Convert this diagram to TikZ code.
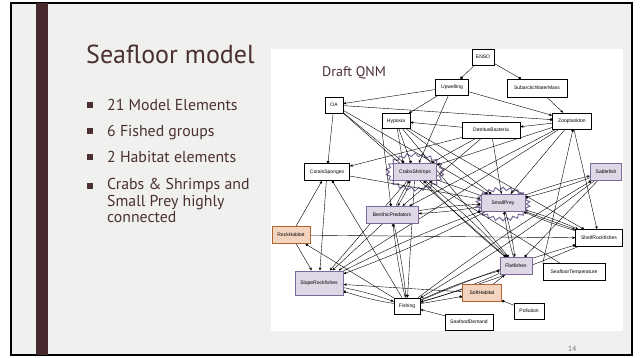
\documentclass[tikz,border=0pt]{standalone}
\usepackage{fontspec}
\setmainfont{Liberation Sans}
\newfontfamily\slidefont{PT Sans}
\usetikzlibrary{arrows.meta,positioning,shapes.symbols,shadows}
\definecolor{slideBgColor}{HTML}{F0F0EE}
\definecolor{barColor}{HTML}{45292D}
\definecolor{slideTextColor}{HTML}{4A3034}
\definecolor{fishedColor}{HTML}{DDD7E6}
\definecolor{fishedLineColor}{HTML}{7B6999}
\definecolor{habitatColor}{HTML}{F3D4BE}
\definecolor{habitatLineColor}{HTML}{B0632E}
\pgfdeclarelayer{slideLayer}
\pgfdeclarelayer{edgeLayer}
\pgfsetlayers{slideLayer,edgeLayer,main}

\begin{document}
\begin{tikzpicture}[x=1pt,y=-1pt,%
    >={Stealth[length=3.2pt,width=2.6pt]},align=center,every node/.style={font=\fontsize{5}{6}\selectfont}]
    \tikzstyle{state}=[text centered,rectangle,fill=white,draw=black,%
      line width=0.5pt,inner sep=1pt,minimum height=16pt]
    % All state styles
    \tikzstyle{fished}=[state,fill=fishedColor,draw=fishedLineColor,line width=1pt,%
      drop shadow={shadow xshift=0.8pt,shadow yshift=-0.8pt,fill=black!45}]
    \tikzstyle{habitat}=[state,fill=habitatColor,draw=habitatLineColor,line width=1pt,%
      drop shadow={shadow xshift=0.8pt,shadow yshift=-0.8pt,fill=black!45}]
    \tikzstyle{burst}=[starburst,starburst points=22,starburst point height=3.5pt,%
      random starburst=0,fill=white,draw=fishedLineColor,line width=1pt]
    \tikzstyle{slideText}=[anchor=base west,inner sep=0pt,text=slideTextColor,align=left]
    \tikzstyle{posEdge}=[->,line width=0.4pt]
    \tikzstyle{negEdge}=[-{Circle[length=2.8pt]},line width=0.4pt]
    % Slide
    \useasboundingbox (0,0) rectangle (640,358);
    \begin{pgfonlayer}{slideLayer}
    \fill[white] (0,0) rectangle (640,358);
    \fill[slideBgColor] (11,3) rectangle (632,355);
    \draw[black,line width=1.4pt] (11,3) rectangle (632,355);
    \fill[barColor] (36,3) rectangle (48,355);
    \fill[white] (271,49) rectangle (623,331);
    % Bursts round the highly connected groups
    \node (crabsBurst) [burst,minimum width=58pt,minimum height=38pt] at (415,172) {};
    \node (preyBurst) [burst,minimum width=54pt,minimum height=34pt] at (503,204) {};
    \end{pgfonlayer}
    \node (title) [slideText,font=\slidefont\fontsize{26}{30}\selectfont] at (86,64) {Seafloor model};
    \foreach \y in {105,131,157,186} \fill[slideTextColor] (87,\y-3) rectangle (93,\y+3);
    \node (itemA) [slideText,font=\slidefont\fontsize{15.8}{17}\selectfont] at (107,111) {21 Model Elements};
    \node (itemB) [slideText,font=\slidefont\fontsize{15.8}{17}\selectfont] at (107,137) {6 Fished groups};
    \node (itemC) [slideText,font=\slidefont\fontsize{15.8}{17}\selectfont] at (107,163) {2 Habitat elements};
    \node (itemD) [slideText,font=\slidefont\fontsize{15.8}{16.5}\selectfont] at (107,223) {Crabs \& Shrimps and\\Small Prey highly\\connected};
    \node (draftTitle) [slideText,font=\slidefont\fontsize{14}{16}\selectfont] at (322,77) {Draft QNM};
    \node (pageNum) [slideText,text=black!55,font=\slidefont\fontsize{7.5}{9}\selectfont] at (568,351) {14};
    % All states
    \node (ENSO) [state,minimum width=22pt] at (483,57) {ENSO};
    \node (upwelling) [state,minimum width=33pt] at (452,87) {Upwelling};
    \node (subarctic) [state,minimum width=60pt,minimum height=18pt] at (537,88) {SubarcticWaterMass};
    \node (OA) [state,minimum width=18pt] at (334,105) {OA};
    \node (hypoxia) [state,minimum width=28pt,minimum height=15pt] at (396,121) {Hypoxia};
    \node (zooplankton) [state,minimum width=39pt] at (572,121) {Zooplankton};
    \node (detritus) [state,minimum width=58pt] at (491,130) {DetritusBacteria};
    \node (corals) [state,minimum width=45pt,minimum height=17pt] at (327,172) {CoralsSponges};
    \node (crabs) [fished,minimum width=43pt,minimum height=17pt] at (415,172) {CrabsShrimps};
    \node (sablefish) [fished,minimum width=31pt,minimum height=17pt] at (606,172) {Sablefish};
    \node (smallPrey) [fished,minimum width=44pt,minimum height=17pt] at (503,203) {SmallPrey};
    \node (benthic) [fished,minimum width=52pt,minimum height=17pt] at (392,215) {BenthicPredators};
    \node (rockHabitat) [habitat,minimum width=38pt,minimum height=17pt] at (291,235) {RockHabitat};
    \node (shelf) [state,minimum width=47pt,minimum height=17pt] at (599,238) {ShelfRockfishes};
    \node (flatfishes) [fished,minimum width=32pt,minimum height=17pt] at (516,266) {Flatfishes};
    \node (temperature) [state,minimum width=62pt,minimum height=17pt] at (574,272) {SeafloorTemperature};
    \node (slope) [fished,minimum width=48pt,minimum height=24pt] at (319,283) {SlopeRockfishes};
    \node (softHabitat) [habitat,minimum width=39pt,minimum height=17pt] at (482,293) {SoftHabitat};
    \node (pollution) [state,minimum width=30pt] at (529,311) {Pollution};
    \node (fishing) [state,minimum width=26pt] at (407,306) {Fishing};
    \node (demand) [state,minimum width=48pt] at (469,322) {SeafoodDemand};
    % Edges
    \begin{pgfonlayer}{edgeLayer}
    \draw [negEdge] (ENSO) -- (upwelling);
    \draw [negEdge] (ENSO) -- (subarctic);
    \draw [posEdge] (upwelling) -- (OA);
    \draw [posEdge] (upwelling) -- (hypoxia);
    \draw [posEdge] (upwelling) -- (zooplankton);
    \draw [posEdge] (upwelling) -- (crabs);
    \draw [posEdge] (subarctic) -- (zooplankton);
    \draw [negEdge] (OA) -- (zooplankton);
    \draw [negEdge] (OA) -- (corals);
    \draw [negEdge] (OA) -- (crabs);
    \draw [negEdge] (OA) -- (smallPrey);
    \draw [negEdge] (OA) -- (flatfishes);
    \draw [negEdge] (hypoxia) -- ([xshift=-12pt]crabs.north);
    \draw [negEdge] (hypoxia) -- ([xshift=-4pt]crabs.north);
    \draw [negEdge] (hypoxia.south west) -- (benthic);
    \draw [negEdge] (hypoxia) -- (smallPrey);
    \draw [negEdge] (hypoxia) -- (flatfishes);
    \draw [negEdge] (hypoxia) -- (shelf);
    \draw [posEdge] (detritus) -- (hypoxia);
    \draw [posEdge] (zooplankton) -- (detritus);
    \draw [posEdge] (detritus) -- (corals);
    \draw [posEdge] (detritus) -- (crabs);
    \draw [posEdge] (detritus) -- (smallPrey);
    \draw [posEdge] (detritus) -- (benthic);
    \draw [posEdge] (zooplankton) -- (crabs);
    \draw [posEdge] (zooplankton) -- (smallPrey);
    \draw [posEdge] (zooplankton) -- (benthic);
    \draw [posEdge] (zooplankton) -- (slope);
    \draw [posEdge] (zooplankton) -- (shelf);
    \draw [negEdge] (temperature.north west) -- ([xshift=1pt]zooplankton.south);
    \draw [posEdge] (temperature) -- (crabs);
    \draw [posEdge] (crabs) to[bend left=4] (benthic);
    \draw [negEdge] (benthic) to[bend left=4] (crabs);
    \draw [posEdge] (crabs) to[bend left=3] (flatfishes);
    \draw [negEdge] (flatfishes) to[bend left=3] (crabs);
    \draw [posEdge] (crabs) -- (shelf);
    \draw [posEdge] (crabs) -- (slope);
    \draw [posEdge] (crabs) -- (fishing);
    \draw [posEdge] (smallPrey) to[bend left=3] (benthic);
    \draw [negEdge] (benthic) to[bend left=3] (smallPrey);
    \draw [posEdge] (smallPrey) to[bend left=4] (flatfishes);
    \draw [negEdge] (flatfishes) to[bend left=4] (smallPrey);
    \draw [posEdge] (smallPrey) to[bend left=3] (shelf);
    \draw [negEdge] (shelf) to[bend left=3] (smallPrey);
    \draw [posEdge] (smallPrey) to[bend left=3] (sablefish);
    \draw [negEdge] (sablefish) to[bend left=3] (smallPrey);
    \draw [posEdge] (smallPrey) to[bend left=3] (slope);
    \draw [negEdge] (slope) to[bend left=3] (smallPrey);
    \draw [posEdge] (benthic) -- (slope);
    \draw [posEdge] (benthic) to[bend left=3] (fishing);
    \draw [negEdge] (fishing) to[bend left=3] (benthic);
    \draw [posEdge] (sablefish) to[bend left=3] (fishing);
    \draw [negEdge] (fishing) to[bend left=3] (sablefish);
    \draw [negEdge] (sablefish) -- (flatfishes);
    \draw [posEdge] (shelf) to[bend left=3] (fishing);
    \draw [negEdge] (fishing) to[bend left=3] (shelf);
    \draw [posEdge] (slope) to[bend left=4] (fishing);
    \draw [negEdge] (fishing) to[bend left=4] (slope);
    \draw [posEdge] (flatfishes) to[bend left=4] (fishing);
    \draw [negEdge] (fishing) to[bend left=4] (flatfishes);
    \draw [posEdge] (rockHabitat) -- (shelf);
    \draw [posEdge] (rockHabitat) -- (slope);
    \draw [posEdge] (rockHabitat) -- (corals);
    \draw [negEdge] (fishing) -- (rockHabitat);
    \draw [posEdge] (corals) -- (slope);
    \draw [negEdge] (fishing) -- (corals);
    \draw [posEdge] (corals) -- (smallPrey);
    \draw [posEdge] (softHabitat) -- (flatfishes);
    \draw [posEdge] (softHabitat) -- (slope);
    \draw [negEdge] (pollution) -- (softHabitat);
    \draw [negEdge] (fishing) -- (softHabitat);
    \draw [posEdge] (demand) -- (fishing);
    \end{pgfonlayer}
  \end{tikzpicture}
\end{document}
